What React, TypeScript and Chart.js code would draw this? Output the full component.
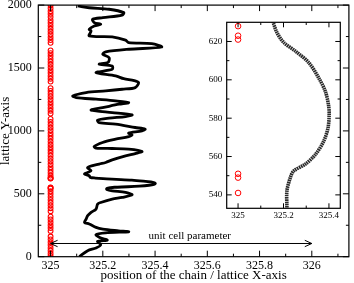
import React, { useEffect, useRef } from 'react';
import { Chart, registerables } from 'chart.js';

Chart.register(...registerables);

const FONT = "'Liberation Serif', 'Times New Roman', serif";

// Main curve: chain position (x) along lattice Y (y)
const curveY = [0, 48, 69, 95, 121, 132, 150, 175, 190, 198, 206, 220, 233, 260, 272, 299, 326, 352, 379, 418, 431, 458, 471, 492, 511, 524, 534, 542, 549, 552, 556, 561, 568, 575, 582, 587, 594, 601, 609, 615, 620, 625, 631, 643, 657, 669, 683, 709, 736, 749, 770, 802, 820, 836, 855, 860, 863, 876, 908, 934, 955, 969, 982, 1000, 1014, 1027, 1054, 1066, 1085, 1101, 1114, 1127, 1146, 1159, 1167, 1185, 1212, 1225, 1239, 1252, 1265, 1278, 1305, 1318, 1331, 1344, 1384, 1400, 1415, 1437, 1463, 1490, 1515, 1530, 1545, 1582, 1609, 1628, 1649, 1667, 1694, 1702, 1721, 1747, 1755, 1794, 1808, 1834, 1848, 1861, 1887, 1900, 1921, 1940, 1967, 1979, 1993];
const curveX = [325.11, 325.142, 325.174, 325.192, 325.18, 325.217, 325.19, 325.174, 325.21, 325.299, 325.26, 325.2, 325.174, 325.148, 325.13, 325.136, 325.142, 325.155, 325.174, 325.18, 325.192, 325.236, 325.274, 325.312, 325.287, 325.236, 325.215, 325.215, 325.23, 325.245, 325.296, 325.34, 325.377, 325.396, 325.401, 325.398, 325.384, 325.355, 325.311, 325.252, 325.201, 325.171, 325.152, 325.148, 325.13, 325.142, 325.155, 325.142, 325.186, 325.211, 325.236, 325.287, 325.324, 325.35, 325.299, 325.236, 325.174, 325.167, 325.199, 325.249, 325.299, 325.312, 325.299, 325.35, 325.362, 325.324, 325.249, 325.186, 325.18, 325.224, 325.287, 325.312, 325.236, 325.174, 325.155, 325.199, 325.262, 325.299, 325.249, 325.174, 325.098, 325.085, 325.136, 325.211, 325.274, 325.324, 325.337, 325.32, 325.28, 325.249, 325.174, 325.236, 325.236, 325.186, 325.22, 325.224, 325.2, 325.211, 325.3, 325.425, 325.387, 325.299, 325.287, 325.236, 325.148, 325.155, 325.148, 325.167, 325.192, 325.167, 325.161, 325.2, 325.274, 325.28, 325.224, 325.148, 325.104];

// Inset curve (zoom of 533..630)
const insetCurveY = [530, 534, 542, 549, 552.5, 556, 561, 568, 575, 582, 587, 594, 601, 609, 615, 619.5, 624.7, 630.8];
const insetCurveX = [325.215, 325.215, 325.215, 325.23, 325.245, 325.296, 325.34, 325.377, 325.396, 325.401, 325.398, 325.384, 325.355, 325.311, 325.252, 325.201, 325.171, 325.152];

// Red circle markers at x = 325
const markerX = 325;
const markerY = [5, 25, 48, 70, 93, 115, 138, 160, 205, 228, 250, 273, 296, 318, 362, 385, 408, 430, 452, 475, 498, 520, 541, 549, 551, 621, 623, 628, 645, 668, 690, 712, 735, 758, 780, 803, 826, 848, 870, 892, 915, 938, 960, 982, 1005, 1027, 1050, 1072, 1095, 1138, 1160, 1183, 1206, 1228, 1251, 1274, 1296, 1318, 1340, 1392, 1415, 1437, 1460, 1482, 1505, 1528, 1550, 1572, 1595, 1618, 1640, 1700, 1722, 1745, 1768, 1790, 1812, 1835, 1858, 1880, 1905, 1930, 1952, 1975, 1998];

// Ticks
const xMajorTicks = [325, 325.2, 325.4, 325.6, 325.8, 326];
const xMinorTicks = [325.1, 325.3, 325.5, 325.7, 325.9, 326.1];
const yMajorTicks = [0, 500, 1000, 1500, 2000];
const yMinorTicks = [250, 750, 1250, 1750];
const insetXMajor = [325, 325.2, 325.4];
const insetXMinor = [325.1, 325.3];
const insetYMajor = [540, 560, 580, 600, 620];
const insetYMinor = [550, 570, 590, 610];

// Annotation
const arrowY = 105;
const arrowFrom = 325;
const arrowTo = 326;
const arrowLabel = 'unit cell parameter';
const arrowLabelX = 325.375;

const xTitle = 'position of the chain / lattice X-axis';
const yTitle = 'lattice Y-axis';

const fmt = (v: any) => {
  const n = Number(v);
  return Number.isInteger(n) ? String(n) : n.toFixed(1);
};

function framePlugin(id: string, xMaj: number[], xMin: number[], yMaj: number[], yMin: number[], majLen: number, minLen: number) {
  return {
    id,
    afterDatasetsDraw(chart: any) {
      const { ctx, chartArea } = chart;
      const { left, right, top, bottom } = chartArea;
      const xs = chart.scales.x;
      const ys = chart.scales.y;
      ctx.save();
      ctx.strokeStyle = '#000';
      ctx.lineWidth = 1;
      ctx.beginPath();
      const seg = (x1: number, y1: number, x2: number, y2: number) => {
        ctx.moveTo(x1, y1);
        ctx.lineTo(x2, y2);
      };
      xMaj.forEach((v) => {
        const p = xs.getPixelForValue(v);
        seg(p, bottom, p, bottom - majLen);
        seg(p, top, p, top + majLen);
      });
      xMin.forEach((v) => {
        const p = xs.getPixelForValue(v);
        seg(p, bottom, p, bottom - minLen);
        seg(p, top, p, top + minLen);
      });
      yMaj.forEach((v) => {
        const p = ys.getPixelForValue(v);
        seg(left, p, left + majLen, p);
        seg(right, p, right - majLen, p);
      });
      yMin.forEach((v) => {
        const p = ys.getPixelForValue(v);
        seg(left, p, left + minLen, p);
        seg(right, p, right - minLen, p);
      });
      ctx.stroke();
      ctx.lineWidth = 1.2;
      ctx.strokeRect(left, top, right - left, bottom - top);
      ctx.restore();
    },
  };
}

const arrowPlugin = {
  id: 'arrowPlugin',
  afterDatasetsDraw(chart: any) {
    const { ctx } = chart;
    const xs = chart.scales.x;
    const ys = chart.scales.y;
    const x1 = xs.getPixelForValue(arrowFrom);
    const x2 = xs.getPixelForValue(arrowTo);
    const y = ys.getPixelForValue(arrowY);
    ctx.save();
    ctx.strokeStyle = '#000';
    ctx.lineWidth = 1;
    ctx.beginPath();
    ctx.moveTo(x1, y);
    ctx.lineTo(x2, y);
    ctx.moveTo(x1 + 7, y - 3.2);
    ctx.lineTo(x1, y);
    ctx.lineTo(x1 + 7, y + 3.2);
    ctx.moveTo(x2 - 7, y - 3.2);
    ctx.lineTo(x2, y);
    ctx.lineTo(x2 - 7, y + 3.2);
    ctx.stroke();
    ctx.fillStyle = '#000';
    ctx.font = `11px ${FONT}`;
    ctx.textAlign = 'left';
    ctx.textBaseline = 'alphabetic';
    ctx.fillText(arrowLabel, xs.getPixelForValue(arrowLabelX), y - 4);
    ctx.restore();
  },
};

function makeScale(
  min: number,
  max: number,
  ticks: number[],
  fontSize: number,
  padding: number,
  size: number,
  horizontal: boolean,
  title?: string,
  titlePad?: any
) {
  return {
    type: 'linear',
    min,
    max,
    afterBuildTicks: (s: any) => {
      s.ticks = ticks.map((v) => ({ value: v }));
    },
    ticks: {
      callback: fmt,
      font: { family: FONT, size: fontSize },
      color: '#000',
      padding,
      autoSkip: false,
      maxRotation: 0,
      minRotation: 0,
    },
    grid: { display: false, drawTicks: false, tickLength: 0 },
    border: { display: false },
    title: title
      ? { display: true, text: title, font: { family: FONT, size: 13 }, color: '#000', padding: titlePad }
      : { display: false },
    afterFit: (s: any) => {
      if (horizontal) {
        s.height = size;
      } else {
        s.width = size;
      }
      s.paddingLeft = 0;
      s.paddingRight = 0;
      s.paddingTop = 0;
      s.paddingBottom = 0;
    },
  };
}

export default function App() {
  const mainRef = useRef<HTMLCanvasElement>(null);
  const insetRef = useRef<HTMLCanvasElement>(null);

  useEffect(() => {
    document.body.style.margin = '0';
    const mainChart = new Chart(mainRef.current as HTMLCanvasElement, {
      type: 'scatter',
      data: {
        datasets: [
          {
            data: curveY.map((y, i) => ({ x: curveX[i], y })),
            showLine: true,
            borderColor: '#000',
            borderWidth: 2.8,
            pointRadius: 0,
            tension: 0.3,
          },
          {
            data: markerY.map((y) => ({ x: markerX, y })),
            showLine: false,
            pointStyle: 'circle',
            pointRadius: 2.4,
            borderColor: '#ff0000',
            backgroundColor: 'rgba(255,255,255,0)',
            borderWidth: 1.1,
          },
        ],
      } as any,
      options: {
        animation: false,
        responsive: false,
        devicePixelRatio: 1,
        layout: { padding: { left: 0, top: 4.7, right: 1.3, bottom: 0 } },
        plugins: { legend: { display: false }, tooltip: { enabled: false } },
        scales: {
          x: makeScale(324.953, 326.142, xMajorTicks, 12, 2, 26.3, true, xTitle, { top: 0, bottom: 0 }),
          y: makeScale(0, 2000, yMajorTicks, 12, 6.5, 38.3, false, yTitle, { top: -2, bottom: 0 }),
        },
      } as any,
      plugins: [
        framePlugin('mainFrame', xMajorTicks, xMinorTicks, yMajorTicks, yMinorTicks, 6, 3),
        arrowPlugin,
      ],
    });

    const insetChart = new Chart(insetRef.current as HTMLCanvasElement, {
      type: 'scatter',
      data: {
        datasets: [
          {
            data: insetCurveY.map((y, i) => ({ x: insetCurveX[i], y })),
            showLine: true,
            borderColor: '#2a2a2a',
            borderWidth: 3.6,
            borderDash: [1.6, 0.6],
            pointRadius: 0,
            tension: 0.3,
          },
          {
            data: markerY.map((y) => ({ x: markerX, y })),
            showLine: false,
            pointStyle: 'circle',
            pointRadius: 2.8,
            borderColor: '#ff0000',
            backgroundColor: 'rgba(255,255,255,0)',
            borderWidth: 1,
          },
        ],
      } as any,
      options: {
        animation: false,
        responsive: false,
        devicePixelRatio: 1,
        layout: { padding: { left: 0, top: 12.3, right: 9.7, bottom: 0 } },
        plugins: { legend: { display: false }, tooltip: { enabled: false } },
        scales: {
          x: makeScale(324.95, 325.45, insetXMajor, 9, 1.5, 16.7, true),
          y: makeScale(533, 630, insetYMajor, 9, 4.4, 31.7, false),
        },
      } as any,
      plugins: [framePlugin('insetFrame', insetXMajor, insetXMinor, insetYMajor, insetYMinor, 5, 2.7)],
    });

    return () => {
      mainChart.destroy();
      insetChart.destroy();
    };
  }, []);

  return (
    <div style={{ position: 'absolute', left: 0, top: 0, width: 354, height: 283, background: '#fff' }}>
      <canvas ref={mainRef} width={354} height={283} style={{ position: 'absolute', left: 0, top: 0, width: 354, height: 283 }} />
      <canvas ref={insetRef} width={155} height={215} style={{ position: 'absolute', left: 195, top: 10, width: 155, height: 215 }} />
    </div>
  );
}
